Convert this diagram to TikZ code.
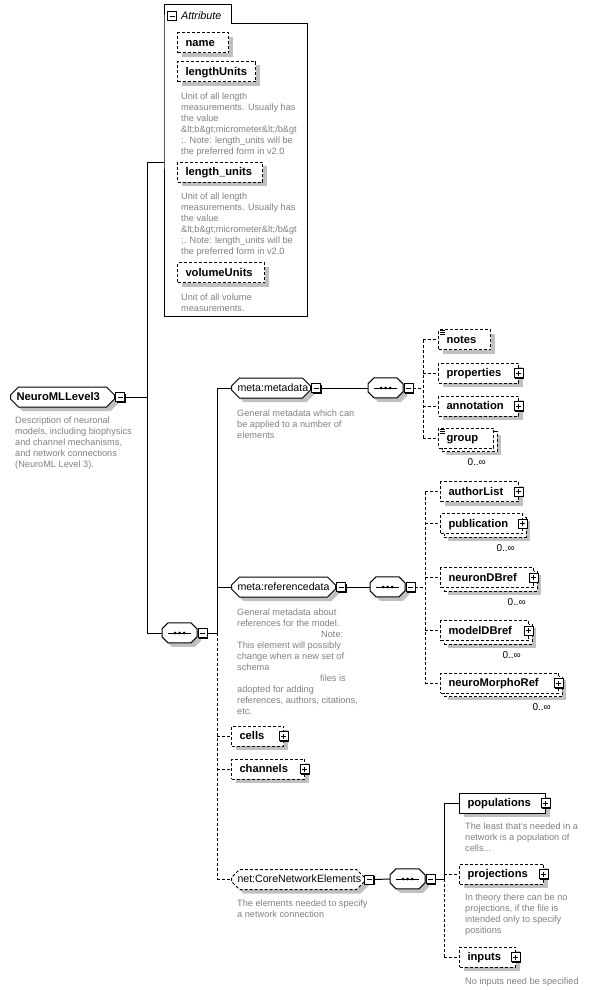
\documentclass[tikz,border=0pt]{standalone}
\usepackage{fontspec}
\setmainfont{Liberation Sans}
\usetikzlibrary{shapes.misc}
\definecolor{shadowgray}{RGB}{192,192,192}
\definecolor{descgray}{RGB}{128,128,128}
\newcommand\seqdraw[1]{%
  \fill[shadowgray] ([shift={(4,4)}]#1.north west) ++(0,6) -- ++(6,-6) -- ++(23,0) -- ++(6,6) -- ++(0,8) -- ++(-6,6) -- ++(-23,0) -- ++(-6,-6) -- cycle;
  \draw[line width=1pt, fill=white] (#1.north west) ++(0,6) -- ++(6,-6) -- ++(23,0) -- ++(6,6) -- ++(0,8) -- ++(-6,6) -- ++(-23,0) -- ++(-6,-6) -- cycle;
  \draw[line width=1pt] ([xshift=6pt]#1.west) -- ([xshift=-6pt]#1.east);
  \foreach \d in {-4.5,0,4.5}{\fill ([xshift=\d pt]#1.center) circle (1.5pt);}}
\newcommand\docicon[1]{%
  \foreach \dy in {1.8,3.6,5.4}{\draw[line width=0.7pt] ([shift={(1.5,\dy)}]#1.north west) -- ++(5,0);}}
\begin{document}
\begin{tikzpicture}[x=1pt,y=-1pt,
  lbl/.style={font=\bfseries\fontsize{11.2}{13}\selectfont},
  reflbl/.style={font=\fontsize{10.6}{12}\selectfont},
  desc/.style={font=\fontsize{9.2}{11}\selectfont, text=descgray, align=left, anchor=north west, inner sep=0pt},
  mult/.style={font=\fontsize{10}{12}\selectfont, anchor=base east, inner sep=0pt},
  shad/.style={preaction={fill=shadowgray, draw=none, transform canvas={shift={(4pt,-4pt)}}}},
  multi/.style={preaction={fill=shadowgray, draw=none, transform canvas={shift={(7pt,-7pt)}}},
                preaction={fill=white, draw=black, line width=1pt, dash pattern=on 3pt off 2pt, transform canvas={shift={(3.5pt,-3.5pt)}}}},
  eboxbase/.style={draw, fill=white, line width=1pt, minimum height=20pt, inner xsep=8pt, inner ysep=0pt,
                   anchor=west, lbl, text height=8.5pt, text depth=1.5pt, align=left},
  ebox/.style={eboxbase, shad},
  mbox/.style={eboxbase, multi},
  opt/.style={dash pattern=on 3pt off 2pt},
  rbox/.style={chamfered rectangle, chamfered rectangle xsep=4pt, chamfered rectangle ysep=4pt, shad, draw, fill=white,
               line width=1pt, minimum height=20pt, inner xsep=2pt, inner ysep=0pt, anchor=west, reflbl,
               text height=8pt, text depth=1.5pt, align=left},
  seq/.style={rectangle, draw=none, minimum width=35pt, minimum height=20pt, inner sep=0pt, anchor=west},
  togbase/.style={draw, fill=white, line width=0.8pt, minimum size=9pt, inner sep=0pt},
  togshad/.style={preaction={fill=black, draw=none, transform canvas={shift={(1.2pt,-1.2pt)}}}},
  minussign/.style={path picture={\draw[line width=0.8pt] ([xshift=2pt]path picture bounding box.west) -- ([xshift=-2pt]path picture bounding box.east);}},
  plussign/.style={path picture={\draw[line width=0.8pt] ([xshift=2pt]path picture bounding box.west) -- ([xshift=-2pt]path picture bounding box.east);
                                 \draw[line width=0.8pt] ([yshift=-2pt]path picture bounding box.north) -- ([yshift=2pt]path picture bounding box.south);}},
  minus/.style={togshad, togbase, minussign},
  plus/.style={togshad, togbase, plussign},
  conn/.style={line width=1pt}
]
\useasboundingbox (0,0) rectangle (591,990);

% ---------- Attribute container ----------
\draw[line width=1pt] (164,24) |- (231,5) |- (307,24) |- (164,316) -- cycle;
\node[togbase, minussign] (attrm) at (172,16) {};
\node[font=\itshape\fontsize{10.8}{12}\selectfont, anchor=base west, inner sep=0pt] (attrt) at (181,19.5) {Attribute};
\coordinate (attrin) at (164,162);

\node[ebox, opt, text width=35pt] (aname) at (177,43) {name};
\node[ebox, opt, text width=62pt] (alu) at (177,71.5) {lengthUnits};
\node[desc] (alud) at (181,92.3) {Unit of all length\\measurements. Usually has\\the value\\\&lt;b\&gt;micrometer\&lt;/b\&gt\\;. Note: length\_units will be\\the preferred form in v2.0};
\node[ebox, opt, text width=69pt] (alu2) at (177,172) {length\_units};
\node[desc] (alu2d) at (181,192.3) {Unit of all length\\measurements. Usually has\\the value\\\&lt;b\&gt;micrometer\&lt;/b\&gt\\;. Note: length\_units will be\\the preferred form in v2.0};
\node[ebox, opt, text width=71pt] (avu) at (177,272.5) {volumeUnits};
\node[desc] (avud) at (181,293.3) {Unit of all volume\\measurements.};

% ---------- Root ----------
\node[rbox, lbl, text width=92pt] (root) at (10,397) {NeuroMLLevel3};
\node[minus] (rootm) at ([xshift=5pt]root.east) {};
\node[desc] (rootd) at (15,416.3) {Description of neuronal\\models, including biophysics\\and channel mechanisms,\\and network connections\\(NeuroML Level 3).};

\coordinate (j0) at (147,397);
\coordinate (v1top) at (147,162);
\coordinate (v1bot) at (147,633);

% ---------- main sequence ----------
\node[seq] (seq1) at (162,633) {};
\seqdraw{seq1}
\node[minus] (seq1m) at ([xshift=5pt]seq1.east) {};

\coordinate (v2top) at (217,388);
\coordinate (v2mid) at (217,633);
\coordinate (v2ref) at (217,587);
\coordinate (v2cells) at (217,736);
\coordinate (v2chan) at (217,769);
\coordinate (v2bot) at (217,879.5);

% meta:metadata
\node[rbox, text width=67pt] (meta) at (231,388) {meta:metadata};
\node[minus] (metam) at ([xshift=5pt]meta.east) {};
\node[desc] (metad) at (237,409.8) {General metadata which can\\be applied to a number of\\elements};

\node[seq] (seq2) at (368,388) {};
\seqdraw{seq2}
\node[minus] (seq2m) at ([xshift=5pt]seq2.east) {};
\coordinate (v3mid) at (423,388);
\coordinate (v3top) at (423,339.5);
\coordinate (v3b) at (423,373);
\coordinate (v3c) at (423,406);
\coordinate (v3bot) at (423,438);

\node[ebox, opt, text width=36pt] (notes) at (438,339.5) {notes};
\docicon{notes}
\node[ebox, opt, text width=64pt] (props) at (438,373) {properties};
\node[plus] (propsp) at ([xshift=-0.5pt]props.east) {};
\node[ebox, opt, text width=64pt] (annot) at (438,406) {annotation};
\node[plus] (annotp) at ([xshift=-0.5pt]annot.east) {};
\node[mbox, opt, text width=39pt] (group) at (438,438) {group};
\docicon{group}
\node[mult] (groupm) at ([shift={(-8,17)}]group.south east) {0..∞};

% meta:referencedata
\node[rbox, text width=92pt] (ref) at (231,587) {meta:referencedata};
\node[minus] (refm) at ([xshift=5pt]ref.east) {};
\node[desc] (refd) at (237,608.3) {General metadata about\\references for the model.\\\hspace*{84pt}Note:\\This element will possibly\\change when a new set of\\schema\\\hspace*{83pt}files is\\adopted for adding\\references, authors, citations,\\etc.};

\node[seq] (seq3) at (370,587) {};
\seqdraw{seq3}
\node[minus] (seq3m) at ([xshift=5pt]seq3.east) {};
\coordinate (v4mid) at (425,587);
\coordinate (v4top) at (425,491.5);
\coordinate (v4b) at (425,523.5);
\coordinate (v4c) at (425,577.5);
\coordinate (v4d) at (425,630.5);
\coordinate (v4bot) at (425,683);

\node[ebox, opt, text width=62pt] (author) at (440,491.5) {authorList};
\node[plus] (authorp) at ([xshift=-0.5pt]author.east) {};
\node[mbox, opt, text width=66pt] (pub) at (440,523.5) {publication};
\node[plus] (pubp) at ([xshift=-0.5pt]pub.east) {};
\node[mult] (pubm) at ([shift={(-8,17)}]pub.south east) {0..∞};
\node[mbox, opt, text width=77pt] (ndb) at (440,577.5) {neuronDBref};
\node[plus] (ndbp) at ([xshift=-0.5pt]ndb.east) {};
\node[mult] (ndbm) at ([shift={(-8,17)}]ndb.south east) {0..∞};
\node[mbox, opt, text width=72pt] (mdb) at (440,630.5) {modelDBref};
\node[plus] (mdbp) at ([xshift=-0.5pt]mdb.east) {};
\node[mult] (mdbm) at ([shift={(-8,17)}]mdb.south east) {0..∞};
\node[mbox, opt, text width=102pt] (nmr) at (440,683) {neuroMorphoRef};
\node[plus] (nmrp) at ([xshift=-0.5pt]nmr.east) {};
\node[mult] (nmrm) at ([shift={(-8,17)}]nmr.south east) {0..∞};

% cells, channels
\node[ebox, opt, text width=36pt] (cells) at (231,736) {cells};
\node[plus] (cellsp) at ([xshift=-0.5pt]cells.east) {};
\node[ebox, opt, text width=57pt] (chan) at (231,769) {channels};
\node[plus] (chanp) at ([xshift=-0.5pt]chan.east) {};

% net:CoreNetworkElements
\node[rbox, opt, text width=121pt] (net) at (231,879.5) {net:CoreNetworkElements};
\node[minus] (netm) at ([xshift=4pt]net.east) {};
\node[desc] (netd) at (237,899.3) {The elements needed to specify\\a network connection};

\node[seq] (seq4) at (390,879) {};
\seqdraw{seq4}
\node[minus] (seq4m) at ([xshift=5pt]seq4.east) {};
\coordinate (v5mid) at (444,879);
\coordinate (v5top) at (444,803);
\coordinate (v5b) at (444,874);
\coordinate (v5bot) at (444,957);

\node[ebox, text width=70pt] (pop) at (459,803) {populations};
\node[plus] (popp) at ([xshift=-0.5pt]pop.east) {};
\node[desc] (popd) at (465,822.3) {The least that's needed in a\\network is a population of\\cells...};
\node[ebox, opt, text width=68pt] (proj) at (459,874) {projections};
\node[plus] (projp) at ([xshift=-0.5pt]proj.east) {};
\node[desc] (projd) at (465,893.3) {In theory there can be no\\projections, if the file is\\intended only to specify\\positions};
\node[ebox, opt, text width=40pt] (inp) at (459,957) {inputs};
\node[plus] (inpp) at ([xshift=-0.5pt]inp.east) {};
\node[desc] (inpd) at (465,977.3) {No inputs need be specified};

% ---------- connectors ----------
\draw[conn] (rootm.east) -- (j0);
\draw[conn] (v1top) -- (v1bot);
\draw[conn] (v1top) -- (attrin);
\draw[conn] (v1bot) -- (seq1.west);
\draw[conn] (seq1m.east) -- (v2mid);
\draw[conn] (v2top) -- (v2mid);
\draw[conn,opt] (v2mid) -- (v2bot);
\draw[conn] (v2top) -- (meta.west);
\draw[conn] (v2ref) -- (ref.west);
\draw[conn,opt] (v2cells) -- (cells.west);
\draw[conn,opt] (v2chan) -- (chan.west);
\draw[conn,opt] (v2bot) -- (net.west);

\draw[conn] (metam.east) -- (seq2.west);
\draw[conn,opt] (seq2m.east) -- (v3mid);
\draw[conn,opt] (v3top) -- (v3bot);
\draw[conn,opt] (v3top) -- (notes.west);
\draw[conn,opt] (v3b) -- (props.west);
\draw[conn,opt] (v3c) -- (annot.west);
\draw[conn,opt] (v3bot) -- (group.west);

\draw[conn] (refm.east) -- (seq3.west);
\draw[conn,opt] (seq3m.east) -- (v4mid);
\draw[conn,opt] (v4top) -- (v4bot);
\draw[conn,opt] (v4top) -- (author.west);
\draw[conn,opt] (v4b) -- (pub.west);
\draw[conn,opt] (v4c) -- (ndb.west);
\draw[conn,opt] (v4d) -- (mdb.west);
\draw[conn,opt] (v4bot) -- (nmr.west);

\draw[conn] (netm.east) -- (seq4.west);
\draw[conn] (seq4m.east) -- (v5mid);
\draw[conn] (v5top) -- (v5mid);
\draw[conn,opt] (v5mid) -- (v5bot);
\draw[conn] (v5top) -- (pop.west);
\draw[conn,opt] (v5b) -- (proj.west);
\draw[conn,opt] (v5bot) -- (inp.west);
\end{tikzpicture}
\end{document}
